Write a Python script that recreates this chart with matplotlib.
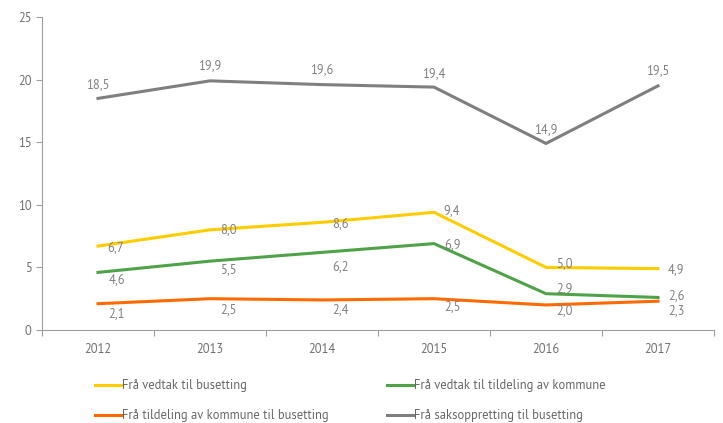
import matplotlib.pyplot as plt
from matplotlib.lines import Line2D

plt.rcParams['font.family'] = ['PT Sans', 'DejaVu Sans']

years = ['2012', '2013', '2014', '2015', '2016', '2017']
vedtak_busetting = [6.7, 8.0, 8.6, 9.4, 5.0, 4.9]
vedtak_tildeling = [4.6, 5.5, 6.2, 6.9, 2.9, 2.6]
tildeling_busetting = [2.1, 2.5, 2.4, 2.5, 2.0, 2.3]
sak_busetting = [18.5, 19.9, 19.6, 19.4, 14.9, 19.5]

names = ['Frå vedtak til busetting',
         'Frå vedtak til tildeling av kommune',
         'Frå tildeling av kommune til busetting',
         'Frå saksoppretting til busetting']
colors = ['#ffcc00', '#4ea247', '#ff6a00', '#7f7f7f']
txt_col = '#808080'

# label offsets in points (dx, dy), per series
offs = [
    [(13, -1), (13, 0), (13, -1), (13, 1), (13, 3), (13, -1)],
    [(14, -5), (13, -6), (13, -10), (13, -1), (13, 4), (13, 1)],
    [(13, -7), (13, -8), (13, -7), (13, -6), (13, -4), (13, -7)],
    [(0, 10), (0, 11), (0, 11), (0, 10), (0, 10), (0, 11)],
]

fig = plt.figure(figsize=(7.23, 4.23), dpi=100)
ax = fig.add_axes([42/723, 93/423, 672/723, 313/423])

x = list(range(len(years)))
series = [vedtak_busetting, vedtak_tildeling, tildeling_busetting, sak_busetting]
for vals, col, off in zip(series, colors, offs):
    ax.plot(x, vals, color=col, lw=2.2, solid_joinstyle='miter')
    for xi, v, (dx, dy) in zip(x, vals, off):
        ax.annotate(f'{v:.1f}'.replace('.', ','), (xi, v), xytext=(dx, dy),
                    textcoords='offset points', ha='center', va='center',
                    fontsize=9, color=txt_col)

ax.set_xlim(-0.5, 5.5)
ax.set_ylim(0, 25)
ax.set_yticks([0, 5, 10, 15, 20, 25])
ax.set_xticks([i - 0.5 for i in range(7)])
ax.set_xticklabels([])
ax.set_xticks(x, minor=True)
ax.set_xticklabels(years, minor=True)
ax.tick_params(axis='x', which='minor', length=0, pad=9)
ax.tick_params(axis='both', which='major', length=4, color='#a0a0a0',
               labelsize=9, labelcolor='#707070')
ax.tick_params(axis='x', which='minor', labelsize=9, labelcolor='#707070')
for s in ['top', 'right']:
    ax.spines[s].set_visible(False)
for s in ['left', 'bottom']:
    ax.spines[s].set_color('#a0a0a0')

handles = [Line2D([], [], color=c, lw=2.2) for c in colors]
leg_kw = dict(loc='upper left', frameon=False, fontsize=9, handlelength=2.1,
              handletextpad=0.05, labelspacing=1.35, labelcolor='#666666',
              borderaxespad=0, borderpad=0)
leg1 = fig.legend([handles[0], handles[2]], [names[0], names[2]],
                  bbox_to_anchor=(95/723, 1 - 379/423), **leg_kw)
leg2 = fig.legend([handles[1], handles[3]], [names[1], names[3]],
                  bbox_to_anchor=(387/723, 1 - 379/423), **leg_kw)

fig.savefig('out.png', dpi=100)
